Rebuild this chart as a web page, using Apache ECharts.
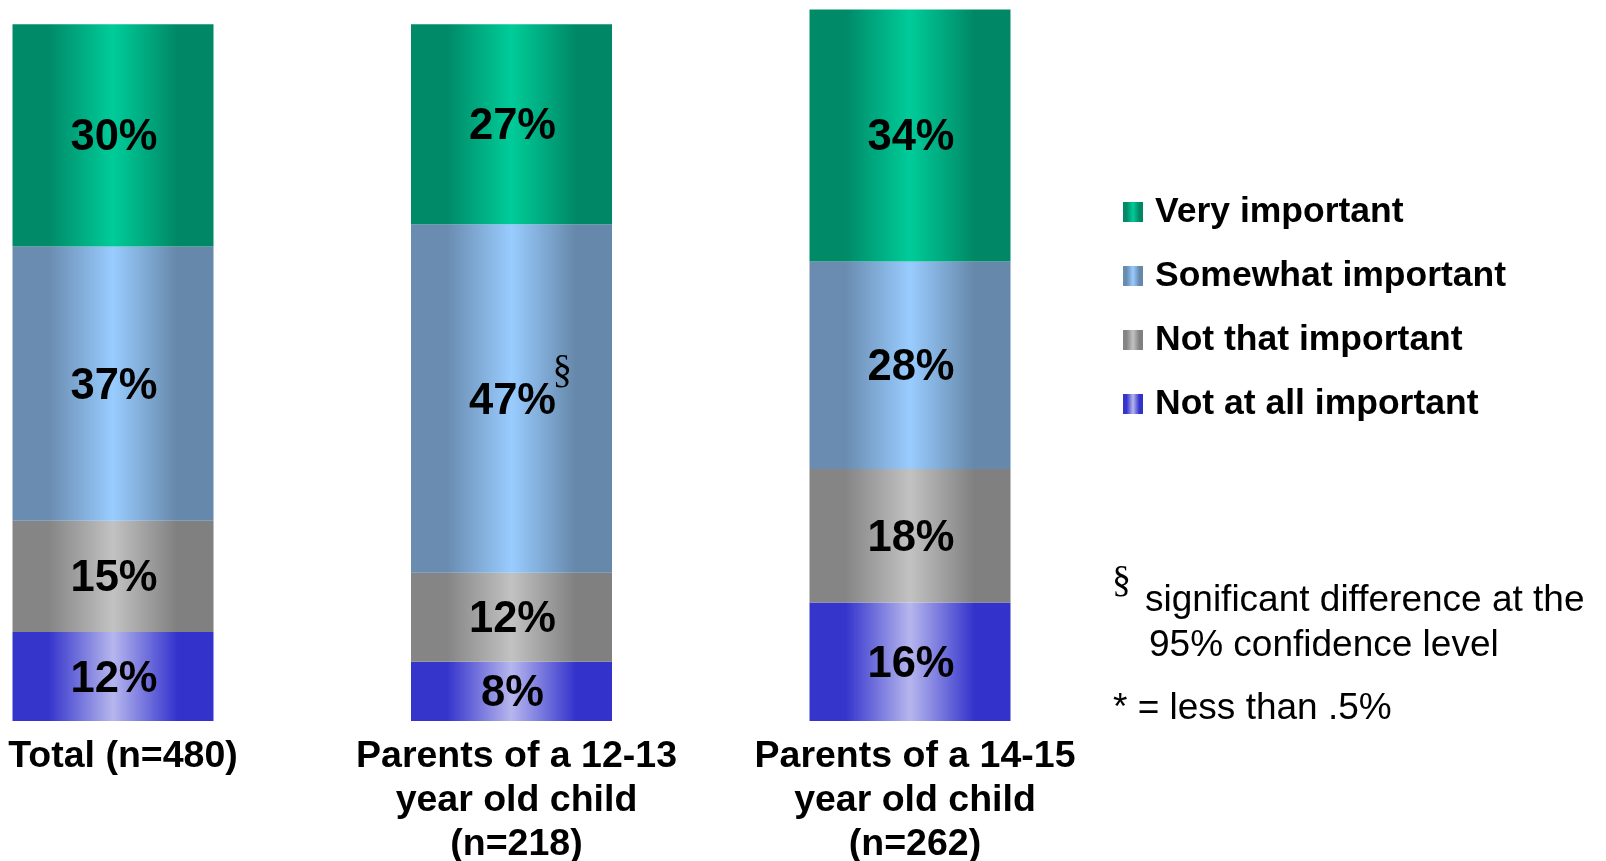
<!DOCTYPE html>
<html>
<head>
<meta charset="utf-8">
<script src="https://cdn.jsdelivr.net/npm/echarts@6/dist/echarts.min.js"></script>
<style>
html,body{margin:0;padding:0;background:#fff;}
#c{width:1606px;height:861px;}
</style>
</head>
<body>
<div id="c"></div>
<script>
// ---- data ----
var categories = ['Total (n=480)', 'Parents of a 12-13\nyear old child\n(n=218)', 'Parents of a 14-15\nyear old child\n(n=262)'];
var seriesNames = ['Very important', 'Somewhat important', 'Not that important', 'Not at all important'];
var veryImportant = [30, 27, 34];
var somewhatImportant = [37, 47, 28];
var notThatImportant = [15, 12, 18];
var notAtAllImportant = [12, 8, 16];
var footnotes = ['significant difference at the', '95% confidence level', '* = less than .5%'];

var FONT = '"Liberation Sans", Arial, sans-serif';
var SERIF = '"Liberation Serif", "Times New Roman", serif';

function grad(edge, mid, edge2) {
  return new echarts.graphic.LinearGradient(0, 0, 1, 0, [
    {offset: 0, color: edge},
    {offset: 0.18, color: edge},
    {offset: 0.5, color: mid},
    {offset: 0.82, color: edge2},
    {offset: 1, color: edge2}
  ]);
}
var colors = {
  very: grad('#008A68', '#00CC99', '#008866'),
  somewhat: grad('#6A8CB0', '#99CCFF', '#6688AA'),
  notThat: grad('#858585', '#C2C2C2', '#808080'),
  notAtAll: grad('#3535CC', '#B6B6EE', '#3333CC')
};

function mkSeries(name, data, color) {
  return {
    name: name,
    type: 'bar',
    stack: 'all',
    barWidth: 201,
    data: data,
    itemStyle: {color: color},
    label: {
      show: true,
      position: 'inside',
      offset: [1, 3],
      formatter: '{c}%',
      color: '#000',
      fontFamily: FONT,
      fontWeight: 'bold',
      fontSize: 43.5
    },
    emphasis: {disabled: true}
  };
}

var catData = categories.map(function (c, i) {
  return {value: c, textStyle: {padding: [0, 0, 0, i === 0 ? 20 : 10]}};
});

var chart = echarts.init(document.getElementById('c'), null, {renderer: 'canvas'});
var option = {
  animation: false,
  backgroundColor: '#ffffff',
  grid: {left: 113, width: 797, top: 2, bottom: 140, containLabel: false, outerBoundsMode: 'none'},
  xAxis: {
    type: 'category',
    boundaryGap: false,
    data: catData,
    axisLine: {show: false},
    axisTick: {show: false},
    axisLabel: {
      interval: 0,
      margin: 14,
      color: '#000',
      fontFamily: FONT,
      fontWeight: 'bold',
      fontSize: 37.5,
      lineHeight: 44
    }
  },
  yAxis: {type: 'value', min: 0, max: 97, show: false, splitLine: {show: false}},
  legend: {
    orient: 'vertical',
    left: 1123,
    top: 192,
    padding: 0,
    itemWidth: 20,
    itemHeight: 20,
    itemGap: 24,
    icon: 'rect',
    data: seriesNames,
    textStyle: {
      color: '#000',
      fontFamily: FONT,
      fontWeight: 'bold',
      fontSize: 35.5,
      lineHeight: 40,
      padding: [0, 0, 0, 7]
    }
  },
  series: [
    mkSeries(seriesNames[3], notAtAllImportant, colors.notAtAll),
    mkSeries(seriesNames[2], notThatImportant, colors.notThat),
    mkSeries(seriesNames[1], somewhatImportant, colors.somewhat),
    mkSeries(seriesNames[0], veryImportant, colors.very)
  ]
};
chart.setOption(option);

// significance marker next to the 47% label, placed through the chart's scales
var idx = 1;
var midVal = notAtAllImportant[idx] + notThatImportant[idx] + somewhatImportant[idx] / 2;
var p = chart.convertToPixel({gridIndex: 0}, [idx, midVal]);
if (!p || isNaN(p[0])) { p = chart.convertToPixel({xAxisIndex: 0, yAxisIndex: 0}, [idx, midVal]); }

chart.setOption({
  graphic: [
    {type: 'text', x: p[0] + 41, y: p[1] - 46, z: 100,
      style: {text: '\u00A7', font: '39px ' + SERIF, fill: '#000'}},
    {type: 'text', left: 1112, top: 563,
      style: {text: '\u00A7', font: '38px ' + SERIF, fill: '#000'}},
    {type: 'text', left: 1145, top: 582, style: {text: footnotes[0], font: '37px ' + FONT, fill: '#000'}},
    {type: 'text', left: 1149, top: 627, style: {text: footnotes[1], font: '37px ' + FONT, fill: '#000'}},
    {type: 'text', left: 1113, top: 690, style: {text: footnotes[2], font: '37px ' + FONT, fill: '#000'}}
  ]
});
</script>
</body>
</html>
